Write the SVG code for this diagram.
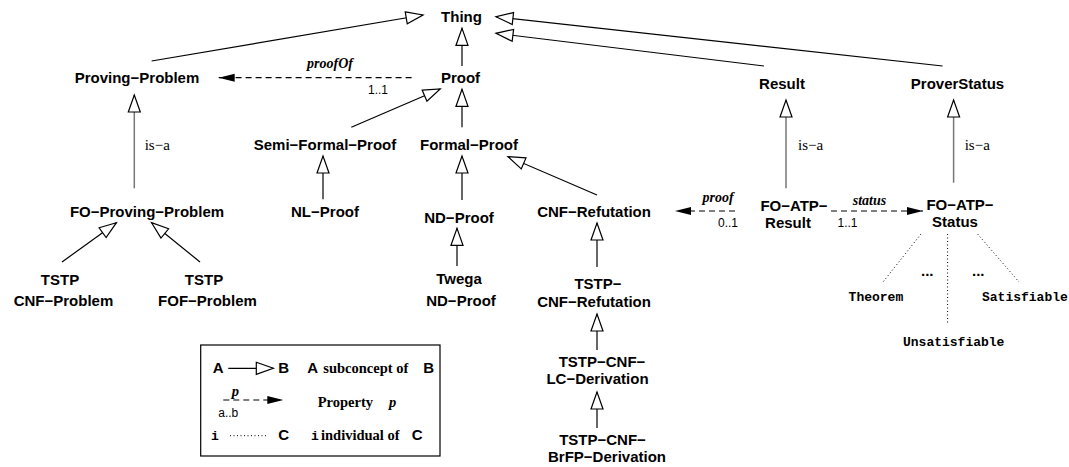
<svg xmlns="http://www.w3.org/2000/svg" width="1069" height="467" viewBox="0 0 1069 467">
<style>
.n{font-family:"Liberation Sans",Arial,sans-serif;font-weight:bold;font-size:15px;fill:#000;text-anchor:middle}
.ln{stroke:#000;stroke-width:1.2;fill:none}
.isa{stroke:#777;stroke-width:1.5;fill:none}
.dash{stroke:#000;stroke-width:1.2;fill:none;stroke-dasharray:6 4}
.dot{stroke:#000;stroke-width:1;fill:none;stroke-dasharray:1 2.5}
.lbl{font-family:"Liberation Serif","Times New Roman",serif;font-size:15px;fill:#000}
.prop{font-family:"Liberation Serif","Times New Roman",serif;font-size:14px;font-weight:bold;font-style:italic;fill:#000;text-anchor:middle}
.card{font-family:"Liberation Sans",Arial,sans-serif;font-size:12px;fill:#000;text-anchor:middle}
.mono{font-family:"Liberation Mono","Courier New",monospace;font-weight:bold;font-size:13px;fill:#000}
.lg{font-family:"Liberation Serif","Times New Roman",serif;font-weight:bold;font-size:14.5px;fill:#000}
.ls{font-family:"Liberation Sans",Arial,sans-serif;font-weight:bold;font-size:15px;fill:#000}
</style>
<defs>
<marker id="open" markerUnits="userSpaceOnUse" markerWidth="20" markerHeight="14" refX="17" refY="6" orient="auto" overflow="visible">
<path d="M0,0 L17,6 L0,12 Z" fill="#fff" stroke="#000" stroke-width="1.2"/>
</marker>
<marker id="fill" markerUnits="userSpaceOnUse" markerWidth="18" markerHeight="10" refX="16" refY="4" orient="auto" overflow="visible">
<path d="M0,0 L16,4 L0,8 Z" fill="#000" stroke="none"/>
</marker>
</defs>
<rect width="1069" height="467" fill="#fff"/>

<g id="connectors">
<line class="ln" x1="151.6" y1="61" x2="423" y2="15" marker-end="url(#open)"/>
<line class="ln" x1="462" y1="66" x2="462" y2="28.3" marker-end="url(#open)"/>
<line class="ln" x1="764" y1="66" x2="496" y2="33.3" marker-end="url(#open)"/>
<line class="ln" x1="942.6" y1="66" x2="496" y2="16.7" marker-end="url(#open)"/>
<line class="dash" x1="411.6" y1="77.7" x2="218.7" y2="77.7" marker-end="url(#fill)"/>
<line class="isa" x1="134.3" y1="188.3" x2="134.3" y2="95" marker-end="url(#open)"/>
<line class="ln" x1="351.3" y1="127.3" x2="440.2" y2="89" marker-end="url(#open)"/>
<line class="ln" x1="462" y1="127.3" x2="462" y2="89.3" marker-end="url(#open)"/>
<line class="ln" x1="323" y1="199.3" x2="323" y2="156" marker-end="url(#open)"/>
<line class="ln" x1="462" y1="200" x2="462" y2="156" marker-end="url(#open)"/>
<line class="ln" x1="597" y1="195" x2="508" y2="156.7" marker-end="url(#open)"/>
<line class="ln" x1="62" y1="262" x2="116.4" y2="222.7" marker-end="url(#open)"/>
<line class="ln" x1="200" y1="262" x2="151.6" y2="222.7" marker-end="url(#open)"/>
<line class="ln" x1="457" y1="266" x2="457" y2="228.3" marker-end="url(#open)"/>
<line class="ln" x1="597" y1="267" x2="597" y2="223" marker-end="url(#open)"/>
<line class="ln" x1="597" y1="350" x2="597" y2="314" marker-end="url(#open)"/>
<line class="ln" x1="597" y1="428" x2="597" y2="392" marker-end="url(#open)"/>
<line class="isa" x1="786" y1="188.3" x2="786" y2="100" marker-end="url(#open)"/>
<line class="isa" x1="953.6" y1="182.7" x2="953.6" y2="100" marker-end="url(#open)"/>
<line class="dash" x1="735" y1="211" x2="675" y2="211" marker-end="url(#fill)"/>
<line class="dash" x1="831" y1="211" x2="923" y2="211" marker-end="url(#fill)"/>
<line class="dot" x1="921" y1="234" x2="883" y2="282"/>
<line class="dot" x1="947.6" y1="234" x2="947.6" y2="325"/>
<line class="dot" x1="977.6" y1="234" x2="1019" y2="282"/>
</g>

<g id="edge-labels">
<text class="prop" x="330" y="68.3">proofOf</text>
<text class="card" x="378" y="94.3">1..1</text>
<text class="lbl" x="144.7" y="150">is−a</text>
<text class="lbl" x="798" y="150">is−a</text>
<text class="lbl" x="964.7" y="150">is−a</text>
<text class="prop" x="718" y="201.5">proof</text>
<text class="card" x="728" y="226.7">0..1</text>
<text class="prop" x="869.5" y="205">status</text>
<text class="card" x="847.5" y="226.7">1..1</text>
</g>

<g id="n-thing"><text class="n" x="461.5" y="22">Thing</text></g>
<g id="n-proving-problem"><text class="n" x="137" y="83">Proving−Problem</text></g>
<g id="n-proof"><text class="n" x="460.5" y="83">Proof</text></g>
<g id="n-result"><text class="n" x="782" y="89">Result</text></g>
<g id="n-proverstatus"><text class="n" x="957.5" y="89">ProverStatus</text></g>
<g id="n-semi-formal-proof"><text class="n" x="325" y="150">Semi−Formal−Proof</text></g>
<g id="n-formal-proof"><text class="n" x="469" y="150">Formal−Proof</text></g>
<g id="n-fo-proving-problem"><text class="n" x="147" y="217">FO−Proving−Problem</text></g>
<g id="n-nl-proof"><text class="n" x="325" y="217">NL−Proof</text></g>
<g id="n-nd-proof"><text class="n" x="459" y="223">ND−Proof</text></g>
<g id="n-cnf-refutation"><text class="n" x="594" y="217">CNF−Refutation</text></g>
<g id="n-fo-atp-result"><text class="n" x="794" y="211">FO−ATP−</text><text class="n" x="788" y="228">Result</text></g>
<g id="n-fo-atp-status"><text class="n" x="960" y="210">FO−ATP−</text><text class="n" x="955" y="227">Status</text></g>
<g id="n-tstp-cnf-problem"><text class="n" x="60" y="285">TSTP</text><text class="n" x="63.5" y="306">CNF−Problem</text></g>
<g id="n-tstp-fof-problem"><text class="n" x="204" y="285">TSTP</text><text class="n" x="207.5" y="306">FOF−Problem</text></g>
<g id="n-twega-nd-proof"><text class="n" x="459" y="284">Twega</text><text class="n" x="461" y="306">ND−Proof</text></g>
<g id="n-tstp-cnf-refutation"><text class="n" x="598" y="289">TSTP−</text><text class="n" x="594" y="306.7">CNF−Refutation</text></g>
<g id="n-tstp-cnf-lc-derivation"><text class="n" x="602" y="367">TSTP−CNF−</text><text class="n" x="597.5" y="384">LC−Derivation</text></g>
<g id="n-tstp-cnf-brfp-derivation"><text class="n" x="602.5" y="445">TSTP−CNF−</text><text class="n" x="607" y="462">BrFP−Derivation</text></g>
<g id="n-individuals">
<text class="ls" x="921" y="276" font-size="14">...</text>
<text class="ls" x="972" y="276" font-size="14">...</text>
<text class="mono" x="848.6" y="301">Theorem</text>
<text class="mono" x="982" y="301">Satisfiable</text>
<text class="mono" x="903" y="345.5">Unsatisfiable</text>
</g>

<g id="legend">
<rect x="200.7" y="345" width="239.3" height="111" fill="none" stroke="#000" stroke-width="1.2"/>
<text class="ls" x="212.7" y="373.3">A</text>
<line class="ln" x1="228.3" y1="368.3" x2="273.3" y2="368.3" marker-end="url(#open)"/>
<text class="ls" x="278.3" y="373.3">B</text>
<text class="ls" x="307.3" y="373.3">A</text>
<text class="lg" x="323.3" y="373.3">subconcept of</text>
<text class="ls" x="423.3" y="373.3">B</text>
<text class="lg" x="231.7" y="396" font-style="italic">p</text>
<line class="dash" x1="223.3" y1="400" x2="283.3" y2="400" marker-end="url(#fill)"/>
<text class="card" x="228.3" y="417.3">a..b</text>
<text class="lg" x="317.7" y="406.7">Property</text>
<text class="lg" x="389" y="406.7" font-style="italic">p</text>
<text class="mono" x="211" y="440">i</text>
<line class="dot" x1="230" y1="435.7" x2="266" y2="435.7"/>
<text class="ls" x="278.3" y="440">C</text>
<text class="mono" x="311" y="440">i</text>
<text class="lg" x="321" y="440">individual of</text>
<text class="ls" x="411.7" y="440">C</text>
</g>
</svg>
